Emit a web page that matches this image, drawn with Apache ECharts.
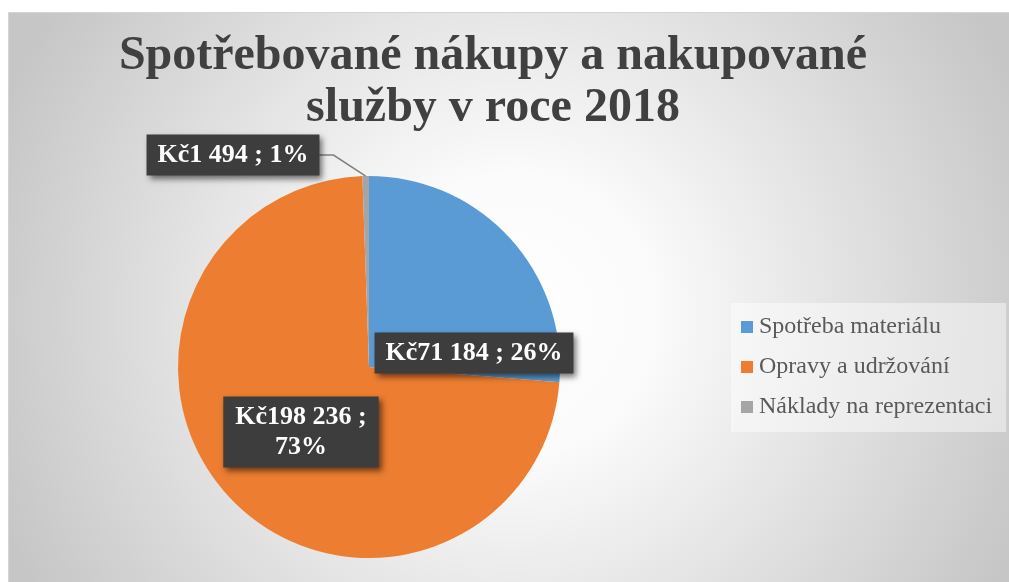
<!DOCTYPE html>
<html>
<head>
<meta charset="utf-8">
<style>
  html, body { margin: 0; padding: 0; background: #fff; }
  #chart { width: 1009px; height: 582px; }
</style>
<script src="https://cdn.jsdelivr.net/npm/echarts@6/dist/echarts.min.js"></script>
</head>
<body>
<div id="chart"></div>
<script>
// data
const categories = ['Spotřeba materiálu', 'Opravy a udržování', 'Náklady na reprezentaci'];
const values = [71184, 198236, 1494];
const colors = ['#5b9bd5', '#ed7d31', '#a5a5a5'];

// label box centres (layout only)
const labelSpots = [[474, 353], [301, 432], [233, 155]];

const serif = '"Liberation Serif", "Times New Roman", serif';

function fmtNum(n) {
  return String(n).replace(/\B(?=(\d{3})+(?!\d))/g, ' ');
}

const chart = echarts.init(document.getElementById('chart'), null, { renderer: 'canvas' });

const option = {
  animation: false,
  graphic: [
    {
      type: 'rect',
      z: -10,
      silent: true,
      shape: { x: 8.5, y: 12.5, width: 1010, height: 580 },
      style: {
        stroke: '#d4d4d4',
        lineWidth: 1,
        fill: {
          type: 'radial', x: 0.5, y: 0.52, r: 0.95,
          colorStops: [
            { offset: 0, color: '#ffffff' },
            { offset: 0.25, color: '#fbfbfb' },
            { offset: 1, color: '#c6c6c6' }
          ]
        }
      }
    }
  ],
  title: {
    text: 'Spotřebované nákupy a nakupované\nslužby v roce 2018',
    left: 488,
    top: 26,
    textAlign: 'center',
    textStyle: {
      fontFamily: serif,
      fontWeight: 'bold',
      fontSize: 48,
      lineHeight: 52,
      color: '#404040'
    }
  },
  legend: {
    orient: 'vertical',
    left: 731,
    top: 303,
    padding: [12, 14, 13, 10],
    backgroundColor: 'rgba(255,255,255,0.45)',
    itemWidth: 12,
    itemHeight: 12,
    itemGap: 16,
    icon: 'rect',
    data: categories,
    textStyle: {
      fontFamily: serif,
      fontSize: 24,
      color: '#595959',
      padding: [0, 0, 0, 1]
    }
  },
  series: [
    {
      type: 'pie',
      center: [369, 367],
      radius: 191,
      startAngle: 90,
      clockwise: true,
      avoidLabelOverlap: false,
      percentPrecision: 0,
      itemStyle: { borderWidth: 0 },
      emphasis: { disabled: true },
      label: {
        show: true,
        position: 'outside',
        formatter: (p) => 'Kč' + fmtNum(p.value) + ' ; ' + p.percent + '%',
        fontFamily: serif,
        fontWeight: 'bold',
        fontSize: 26,
        lineHeight: 30,
        color: '#ffffff',
        align: 'center',
        backgroundColor: '#3d3d3d',
        padding: [6, 11, 5, 11],
        shadowBlur: 6,
        shadowOffsetX: 3,
        shadowOffsetY: 3,
        shadowColor: 'rgba(0,0,0,0.55)'
      },
      labelLine: {
        show: false,
        lineStyle: { color: '#7f7f7f', width: 1.5 }
      },
      labelLayout: function (params) {
        const s = labelSpots[params.dataIndex];
        return { x: s[0], y: s[1], align: 'center', verticalAlign: 'middle' };
      },
      data: categories.map((name, i) => {
        const item = { name: name, value: values[i], itemStyle: { color: colors[i] } };
        if (i === 1) {
          // two-line label for the big slice
          item.label = {
            formatter: (p) => 'Kč' + fmtNum(p.value) + ' ;\n' + p.percent + '%',
            padding: [6, 12, 5, 12]
          };
        }
        if (i === 2) {
          item.labelLine = { show: true, length: 30, length2: 14 };
        }
        return item;
      })
    }
  ]
};

chart.setOption(option);
</script>
</body>
</html>
